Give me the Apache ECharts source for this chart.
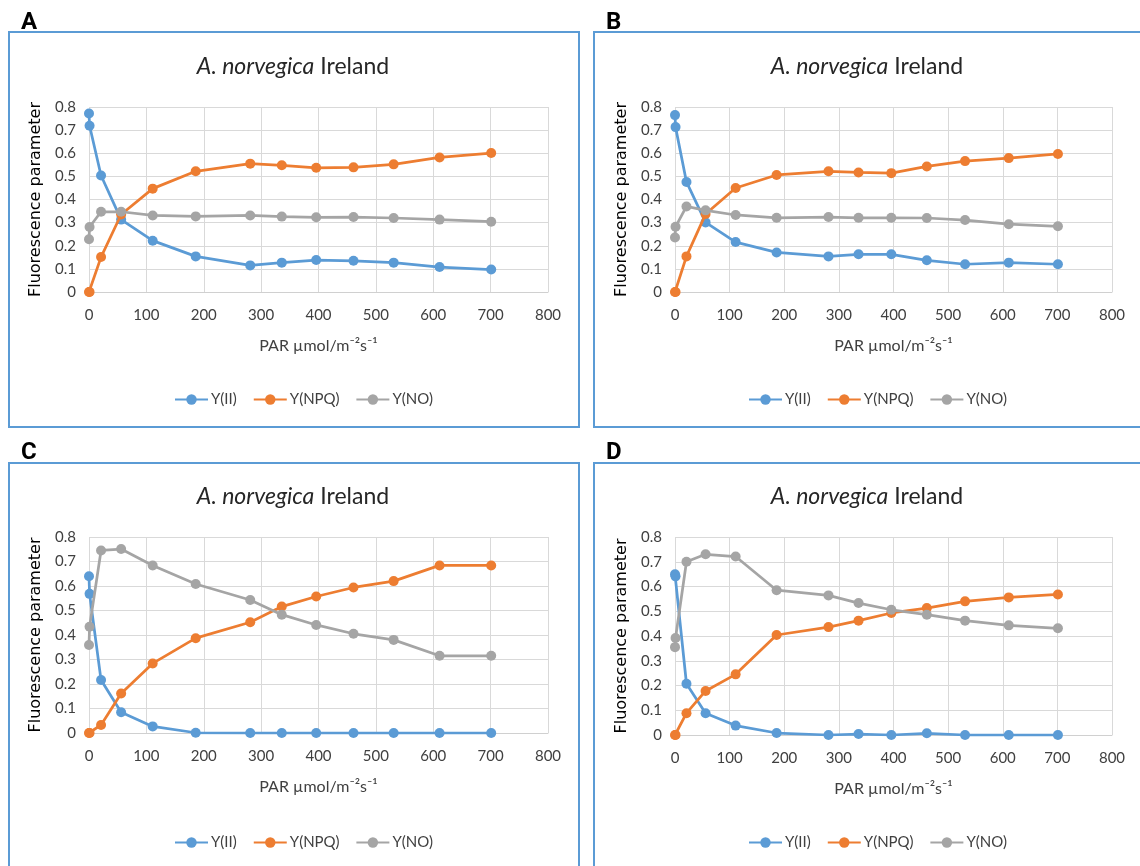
<!DOCTYPE html>
<html>
<head>
<meta charset="utf-8">
<script src="https://cdn.jsdelivr.net/npm/echarts@6/dist/echarts.min.js"></script>
<style>
html,body{margin:0;padding:0;background:#fff;}
#c{width:1140px;height:866px;}
</style>
</head>
<body>
<div id="c"></div>
<script>
// PAR steps (µmol m-2 s-1)
const PAR = [0, 1, 21, 56, 111, 186, 281, 336, 396, 461, 531, 611, 701];
const SERIES_NAMES = ['Y(II)', 'Y(NPQ)', 'Y(NO)'];
const X_TICKS = [0, 100, 200, 300, 400, 500, 600, 700, 800];
const Y_TICKS = [0, 0.1, 0.2, 0.3, 0.4, 0.5, 0.6, 0.7, 0.8];
const PANEL_LABELS = ['A', 'B', 'C', 'D'];

// Panel A
const A_YII  = [0.772, 0.719, 0.504, 0.313, 0.222, 0.154, 0.115, 0.127, 0.138, 0.135, 0.127, 0.108, 0.097];
const A_YNPQ = [0, 0, 0.151, 0.335, 0.447, 0.522, 0.555, 0.548, 0.537, 0.539, 0.552, 0.582, 0.601];
const A_YNO  = [0.228, 0.281, 0.347, 0.347, 0.331, 0.327, 0.331, 0.326, 0.323, 0.324, 0.320, 0.313, 0.304];
// Panel B
const B_YII  = [0.765, 0.713, 0.476, 0.301, 0.216, 0.171, 0.154, 0.163, 0.163, 0.137, 0.120, 0.127, 0.120];
const B_YNPQ = [0, 0, 0.154, 0.337, 0.450, 0.506, 0.522, 0.517, 0.514, 0.543, 0.566, 0.579, 0.597];
const B_YNO  = [0.236, 0.282, 0.370, 0.353, 0.333, 0.321, 0.324, 0.321, 0.321, 0.320, 0.311, 0.293, 0.284];
// Panel C
const C_YII  = [0.640, 0.568, 0.216, 0.085, 0.027, 0.001, 0, 0, 0, 0, 0, 0, 0];
const C_YNPQ = [0, 0, 0.033, 0.161, 0.284, 0.387, 0.452, 0.516, 0.557, 0.594, 0.620, 0.684, 0.684];
const C_YNO  = [0.359, 0.434, 0.745, 0.751, 0.684, 0.608, 0.543, 0.483, 0.441, 0.405, 0.380, 0.315, 0.315];
// Panel D
const D_YII  = [0.649, 0.641, 0.207, 0.088, 0.038, 0.008, 0, 0.004, 0, 0.007, 0, 0, 0];
const D_YNPQ = [0, 0, 0.088, 0.178, 0.245, 0.404, 0.436, 0.462, 0.493, 0.513, 0.540, 0.556, 0.568];
const D_YNO  = [0.355, 0.392, 0.700, 0.730, 0.721, 0.585, 0.564, 0.533, 0.506, 0.486, 0.462, 0.443, 0.431];

const PANEL_DATA = [
  [A_YII, A_YNPQ, A_YNO],
  [B_YII, B_YNPQ, B_YNO],
  [C_YII, C_YNPQ, C_YNO],
  [D_YII, D_YNPQ, D_YNO]
];

const COLORS = ['#5B9BD5', '#ED7D31', '#A5A5A5'];
const FONT = 'Lato';

const layout = [
  {grid:{left:89, top:107, width:459, height:185}, box:[9,32,570,395],  title:[293,55], legend:[174,392], letter:[21,11]},
  {grid:{left:675,top:107, width:437, height:185}, box:[594,32,547,395], title:[867,55], legend:[748,392], letter:[606,11]},
  {grid:{left:89, top:537, width:459, height:196}, box:[9,463,570,410], title:[293,485], legend:[174,835], letter:[21,441]},
  {grid:{left:675,top:537, width:437, height:198}, box:[594,463,547,410],title:[867,485], legend:[748,835], letter:[606,441]}
];

const grids = [], xAxes = [], yAxes = [], series = [], titles = [], legends = [], graphics = [];

layout.forEach((L, i) => {
  grids.push(Object.assign({containLabel:false}, L.grid));
  xAxes.push({
    type:'value', gridIndex:i, min:X_TICKS[0], max:X_TICKS[X_TICKS.length-1], interval:100,
    name:'PAR µmol/m⁻²s⁻¹', nameLocation:'middle', nameGap:46,
    nameTextStyle:{fontFamily:FONT, fontSize:16, color:'#404040'},
    axisLine:{show:true, lineStyle:{color:'#d0d0d0', width:1}},
    axisTick:{show:false},
    axisLabel:{margin:16, fontFamily:FONT, fontSize:15, color:'#404040'},
    splitLine:{show:true, lineStyle:{color:'#d9d9d9', width:1}}
  });
  yAxes.push({
    type:'value', gridIndex:i, min:Y_TICKS[0], max:Y_TICKS[Y_TICKS.length-1], interval:0.1,
    name:'Fluorescence parameter', nameLocation:'middle', nameGap:45, nameRotate:90,
    nameTextStyle:{fontFamily:'DejaVu Sans', fontSize:16, color:'#000'},
    axisLine:{show:false}, axisTick:{show:false},
    axisLabel:{margin:13, fontFamily:FONT, fontSize:15, color:'#404040',
      formatter: v => (Math.abs(v) < 1e-9 ? '0' : (Math.round(v*10)/10).toFixed(1))},
    splitLine:{show:true, lineStyle:{color:'#d9d9d9', width:1}}
  });
  SERIES_NAMES.forEach((nm, k) => {
    series.push({
      name:nm, type:'line', xAxisIndex:i, yAxisIndex:i,
      data: PAR.map((x, j) => [x, PANEL_DATA[i][k][j]]),
      symbol:'circle', symbolSize:10, showSymbol:true,
      lineStyle:{color:COLORS[k], width:2.75},
      itemStyle:{color:COLORS[k]},
      animation:false, z:3+k
    });
  });
  titles.push({
    text:'{i|A. norvegica} Ireland', left:L.title[0], top:L.title[1], textAlign:'center', padding:0,
    textStyle:{fontFamily:FONT, fontSize:23, fontWeight:'normal', color:'#262626',
      rich:{i:{fontFamily:FONT, fontSize:23, fontStyle:'italic', color:'#262626'}}}
  });
  legends.push({
    data:SERIES_NAMES, left:L.legend[0], top:L.legend[1], orient:'horizontal', padding:0,
    itemWidth:33, itemHeight:13, itemGap:16,
    textStyle:{fontFamily:FONT, fontSize:15, color:'#404040', padding:[0,0,0,-2]}
  });
  graphics.push({
    type:'rect', shape:{x:L.box[0], y:L.box[1], width:L.box[2], height:L.box[3]},
    style:{fill:'none', stroke:'#5B9BD5', lineWidth:2}, z:-1, silent:true
  });
  graphics.push({
    type:'text', left:L.letter[0], top:L.letter[1],
    style:{text:PANEL_LABELS[i], font:'bold 24px Roboto', fill:'#000'}, silent:true
  });
});

const chart = echarts.init(document.getElementById('c'), null, {renderer:'canvas'});
chart.setOption({
  animation:false,
  backgroundColor:'#fff',
  color:COLORS,
  title:titles,
  legend:legends,
  grid:grids,
  xAxis:xAxes,
  yAxis:yAxes,
  series:series,
  graphic:graphics
});
</script>
</body>
</html>
